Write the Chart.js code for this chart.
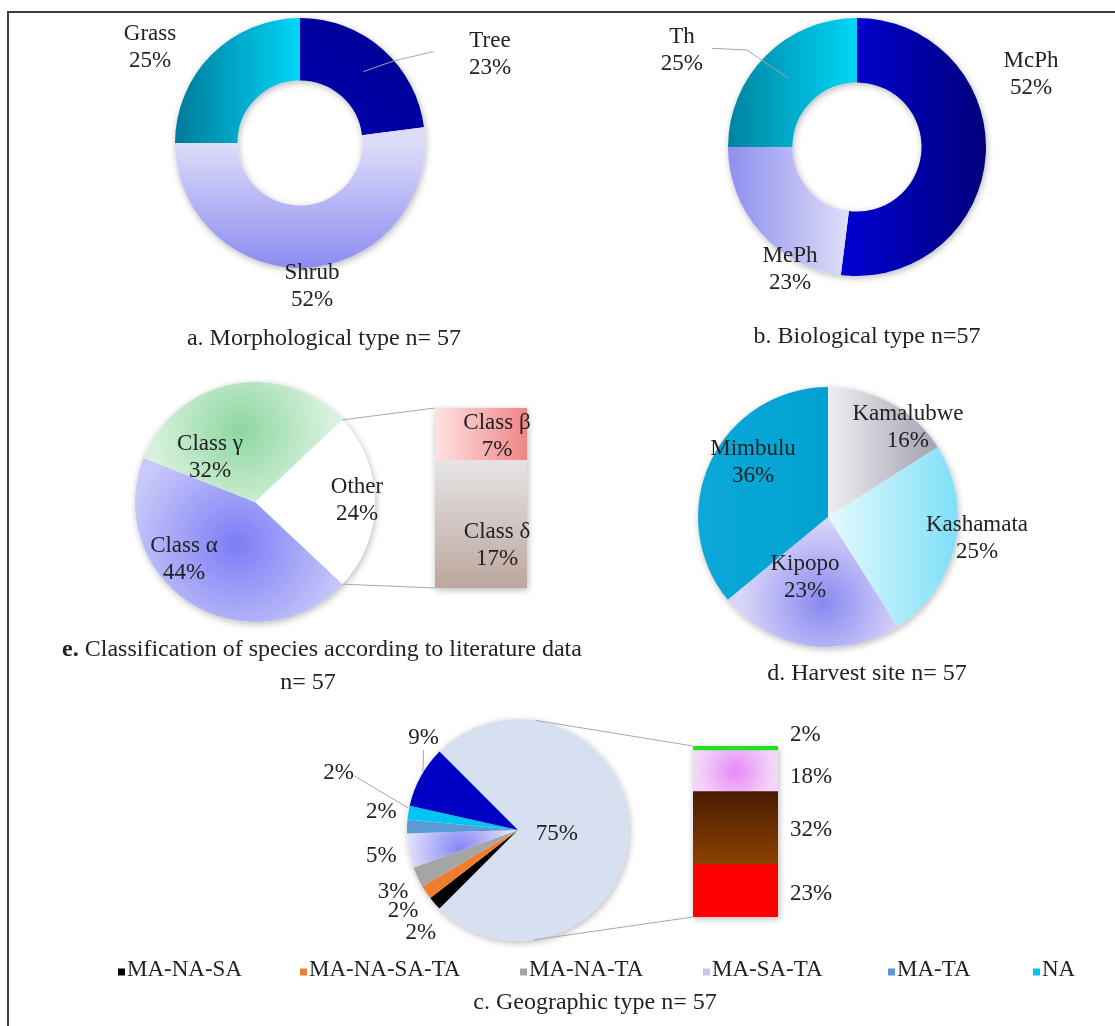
<!DOCTYPE html>
<html>
<head>
<meta charset="utf-8">
<title>Species composition</title>
<script src="https://cdn.jsdelivr.net/npm/chart.js@4.4.0/dist/chart.umd.min.js"></script>
<style>
  html, body { margin: 0; padding: 0; background: #fff; }
  body {
    width: 1115px; height: 1026px; position: relative; overflow: hidden;
    font-family: "Liberation Serif", "Times New Roman", serif; color: #222;
  }
  .frame {
    position: absolute; left: 7px; top: 11px; right: -10px; bottom: -10px;
    border-top: 2px solid #3c3c3c; border-left: 2px solid #3c3c3c;
  }
  canvas { position: absolute; }
  .cap {
    position: absolute; transform: translate(-50%, -50%);
    white-space: nowrap; font-size: 24px; line-height: 1;
  }
  .leg {
    position: absolute; top: 968px; transform: translateY(-50%);
    font-size: 23px; white-space: nowrap; line-height: 1;
  }
  .leg i { display: inline-block; width: 7px; height: 7px; margin-right: 2px; }
</style>
</head>
<body>
<div class="frame"></div>

<canvas id="morph"></canvas>
<canvas id="bio"></canvas>
<canvas id="classPie"></canvas>
<canvas id="classBar"></canvas>
<canvas id="site"></canvas>
<canvas id="geoPie"></canvas>
<canvas id="geoBar"></canvas>
<canvas id="links"></canvas>

<div class="cap" style="left:324px; top:337px">a. Morphological type n= 57</div>
<div class="cap" style="left:867px; top:335px">b. Biological type n=57</div>
<div class="cap" style="left:322px; top:648px"><b>e.</b> Classification of species according to literature data</div>
<div class="cap" style="left:308px; top:681px">n= 57</div>
<div class="cap" style="left:867px; top:672px">d. Harvest site n= 57</div>
<div class="cap" style="left:595px; top:1001px">c. Geographic type n= 57</div>
<div id="legend"></div>

<script>
// ---- data ----
const morphLabels = ['Tree', 'Shrub', 'Grass'];
const morphValues = [23, 52, 25];

const bioLabels = ['McPh', 'MePh', 'Th'];
const bioValues = [52, 23, 25];

const classLabels = ['Other', 'Class α', 'Class γ'];
const classValues = [24, 44, 32];
const classSplitLabels = ['Class δ', 'Class β'];   // bottom to top
const classSplitValues = [17, 7];

const siteLabels = ['Kamalubwe', 'Kashamata', 'Kipopo', 'Mimbulu'];
const siteValues = [16, 25, 23, 36];

const geoLabels = ['Other', 'MA-NA-SA', 'MA-NA-SA-TA', 'MA-NA-TA', 'MA-SA-TA', 'MA-TA', 'NA', ''];
const geoValues = [75, 2, 2, 3, 5, 2, 2, 9];
const geoSplitValues = [23, 32, 18, 2];            // bottom to top

// ---- styles ----
const FONT = '23px "Liberation Serif"';
const INK = '#222';
const LINE = 27;

const morphFill = [
  { from: [0, 0], to: [1, -1], stops: ['#0000b4', '#00008c'] },
  { from: [0, 0], to: [0, 1], stops: ['#dcdcfa', '#8c8cf0'] },
  { from: [-1, 0], to: [0, 0], stops: ['#007a9a', '#00d6f8'] }
];
const bioFill = [
  { from: [-0.1, 0], to: [1, 0], stops: ['#0000d2', '#00007a'] },
  { from: [-1, 0], to: [0, 0], stops: ['#8e8ef0', '#e4e4f8'] },
  { from: [-1, 0], to: [0, 0], stops: ['#00839f', '#00d6f8'] }
];
const classFill = [
  '#ffffff',
  { at: [-0.15, 0.35], size: 0.95, stops: ['#7c7cf6', '#cacafa'] },
  { at: [-0.12, -0.6], size: 0.75, stops: ['#8ed6a0', '#d8f2dc'] }
];
const classSplitFill = [
  { from: [0, -1], to: [0, 1], stops: ['#e6e4e4', '#bca69e'] },
  { from: [-1, 0], to: [1, 0], stops: ['#ffe2e2', '#f08686'] }
];
const siteFill = [
  { from: [0, 0], to: [0.85, 0], stops: ['#eeeef2', '#a2a2b2'] },
  { from: [0.1, 0], to: [1, 0], stops: ['#dcf7fd', '#7edff8'] },
  { at: [-0.04, 0.66], size: 0.62, stops: ['#8888f0', '#d8d4fa'] },
  { from: [-1, 0], to: [0, 0], stops: ['#0ca8d8', '#00a2d2'] }
];
const geoFill = [
  '#d6e0f1', '#000000', '#ef7d2c', '#a5a5a5',
  { at: [-0.52, 0.18], size: 0.5, stops: ['#8484f6', '#e6e6fc'], swatch: '#c4c4f8' },
  '#5b9bd5', '#00c4f2', '#0000c4'
];
const geoSplitFill = [
  '#ff0000',
  { from: [0, -1], to: [0, 1], stops: ['#4a1c00', '#8c4200'] },
  { at: [0, 0], size: 0.9, stops: ['#e68af8', '#f4d6fa'] },
  '#22e022'
];
const legendX = [118, 300, 520, 703, 888, 1033];

// ---- helpers ----
function place(id, left, top, w, h) {
  const c = document.getElementById(id);
  c.width = w; c.height = h;
  c.style.left = left + 'px'; c.style.top = top + 'px';
  c.style.width = w + 'px'; c.style.height = h + 'px';
  return c;
}

// spec coordinates are in units of the half-size of the box
function paint(ctx, spec, box) {
  if (typeof spec === 'string') return spec;
  const P = (p) => [box.cx + p[0] * box.rx, box.cy + p[1] * box.ry];
  let g;
  if (spec.at) {
    const [x, y] = P(spec.at);
    g = ctx.createRadialGradient(x, y, 0, x, y, spec.size * box.rx);
  } else {
    const [x0, y0] = P(spec.from), [x1, y1] = P(spec.to);
    g = ctx.createLinearGradient(x0, y0, x1, y1);
  }
  spec.stops.forEach((s, i) => g.addColorStop(i / (spec.stops.length - 1), s));
  return g;
}

function pieFill(specs) {
  return (c) => {
    const a = c.chart.chartArea;
    if (!a) return '#ccc';
    const r = Math.min(a.width, a.height) / 2;
    return paint(c.chart.ctx, specs[c.dataIndex],
      { cx: (a.left + a.right) / 2, cy: (a.top + a.bottom) / 2, rx: r, ry: r });
  };
}

function barFill(specs) {
  return (c) => {
    const chart = c.chart, y = chart.scales.y, a = chart.chartArea;
    if (!y || !a) return '#ccc';
    const vals = chart.data.datasets.map(d => d.data[0]);
    const lo = vals.slice(0, c.datasetIndex).reduce((s, v) => s + v, 0);
    const yTop = y.getPixelForValue(lo + vals[c.datasetIndex]);
    const yBot = y.getPixelForValue(lo);
    return paint(chart.ctx, specs[c.datasetIndex],
      { cx: (a.left + a.right) / 2, cy: (yTop + yBot) / 2, rx: a.width / 2, ry: (yBot - yTop) / 2 });
  };
}

function dropShadow(ctx, shape) {
  ctx.save();
  ctx.shadowColor = 'rgba(0,0,0,0.28)';
  ctx.shadowBlur = 7;
  ctx.shadowOffsetX = 1;
  ctx.shadowOffsetY = 2;
  ctx.fillStyle = '#fff';
  ctx.beginPath();
  shape(ctx);
  ctx.fill();
  ctx.restore();
}

function drawLines(ctx, lines, x, y) {
  lines.forEach((t, k) => ctx.fillText(t, x, y + (k - (lines.length - 1) / 2) * LINE));
}

// shadow under the pie, slice labels and leader lines on top
const pieDecor = (cfg) => ({
  id: 'pieDecor',
  beforeDatasetsDraw(chart) {
    const a = chart.getDatasetMeta(0).data[0];
    dropShadow(chart.ctx, (ctx) => {
      ctx.arc(a.x, a.y, a.outerRadius, 0, Math.PI * 2);
      if (a.innerRadius > 0) {
        ctx.moveTo(a.x + a.innerRadius, a.y);
        ctx.arc(a.x, a.y, a.innerRadius, 0, Math.PI * 2, true);
      }
    });
  },
  afterDatasetsDraw(chart) {
    const ctx = chart.ctx;
    const a = chart.getDatasetMeta(0).data[0];
    const at = ([fx, fy]) => [a.x + fx * a.outerRadius, a.y + fy * a.outerRadius];
    ctx.save();
    ctx.strokeStyle = '#a6a6a6';
    ctx.lineWidth = 1;
    (cfg.leaders || []).forEach(pts => {
      ctx.beginPath();
      pts.forEach((p, k) => { const [x, y] = at(p); k ? ctx.lineTo(x, y) : ctx.moveTo(x, y); });
      ctx.stroke();
    });
    ctx.font = FONT;
    ctx.fillStyle = INK;
    ctx.textAlign = 'center';
    ctx.textBaseline = 'middle';
    chart.data.datasets[0].data.forEach((v, i) => {
      const [x, y] = at(cfg.pos[i]);
      drawLines(ctx, cfg.names ? [chart.data.labels[i], v + '%'] : [v + '%'], x, y);
    });
    ctx.restore();
  }
});

const barDecor = (cfg) => ({
  id: 'barDecor',
  beforeDatasetsDraw(chart) {
    const els = chart.data.datasets.map((d, i) => chart.getDatasetMeta(i).data[0]);
    const left = els[0].x - els[0].width / 2;
    const top = Math.min(...els.map(e => e.y));
    const bottom = Math.max(...els.map(e => e.base));
    dropShadow(chart.ctx, (ctx) => ctx.rect(left, top, els[0].width, bottom - top));
  },
  afterDatasetsDraw(chart) {
    const ctx = chart.ctx;
    ctx.save();
    ctx.font = FONT;
    ctx.fillStyle = INK;
    ctx.textBaseline = 'middle';
    ctx.textAlign = cfg.align;
    chart.data.datasets.forEach((d, i) => {
      const e = chart.getDatasetMeta(i).data[0];
      const x = cfg.align === 'left' ? e.x + e.width / 2 + cfg.dx : e.x + cfg.dx;
      const y = (e.y + e.base) / 2 + cfg.dy[i];
      drawLines(ctx, cfg.names ? [d.label, d.data[0] + '%'] : [d.data[0] + '%'], x, y);
    });
    ctx.restore();
  }
});

const sum = (arr) => arr.reduce((s, v) => s + v, 0);

function pieChart(canvas, type, labels, values, fill, padding, decor, rotation) {
  return new Chart(canvas, {
    type: type,
    data: {
      labels: labels,
      datasets: [{
        data: values,
        backgroundColor: pieFill(fill),
        borderWidth: 0,
        rotation: rotation || 0
      }]
    },
    options: {
      responsive: false,
      animation: false,
      events: [],
      cutout: type === 'doughnut' ? '50%' : 0,
      layout: { padding: padding },
      plugins: { legend: { display: false }, tooltip: { enabled: false } }
    },
    plugins: [pieDecor(decor)]
  });
}

function stackChart(canvas, labels, values, fill, padding, decor) {
  return new Chart(canvas, {
    type: 'bar',
    data: {
      labels: [''],
      datasets: values.map((v, i) => ({
        label: labels ? labels[i] : '',
        data: [v],
        backgroundColor: barFill(fill),
        borderWidth: 0,
        barPercentage: 1,
        categoryPercentage: 1
      }))
    },
    options: {
      responsive: false,
      animation: false,
      events: [],
      layout: { padding: padding },
      scales: {
        x: { display: false, stacked: true },
        y: { display: false, stacked: true, min: 0, max: sum(values) }
      },
      plugins: { legend: { display: false }, tooltip: { enabled: false } }
    },
    plugins: [barDecor(decor)]
  });
}

// ---- charts ----
const morphChart = pieChart(place('morph', 100, 12, 460, 310), 'doughnut',
  morphLabels, morphValues, morphFill,
  { left: 75, top: 6, right: 135, bottom: 54 },
  { names: true,
    pos: [[1.52, -0.712], [0.096, 1.144], [-1.2, -0.764]],
    leaders: [[[1.067, -0.731], [0.747, -0.656], [0.507, -0.571]]] });

const bioChart = pieChart(place('bio', 600, 12, 515, 310), 'doughnut',
  bioLabels, bioValues, bioFill,
  { left: 128, top: 6, right: 129, bottom: 46 },
  { names: true,
    pos: [[1.349, -0.566], [-0.519, 0.953], [-1.357, -0.752]],
    leaders: [[[-1.126, -0.765], [-0.855, -0.752], [-0.532, -0.533]]] });

// the split-out slice is centred on the right-hand side
const classRotation = 90 - 180 * classValues[0] / sum(classValues);
const classPie = pieChart(place('classPie', 20, 372, 400, 266), 'pie',
  classLabels, classValues, classFill,
  { left: 115, top: 10, right: 45, bottom: 16 },
  { names: true, pos: [[0.85, -0.017], [-0.592, 0.475], [-0.375, -0.375]] },
  classRotation);

const classBar = stackChart(place('classBar', 425, 398, 115, 200),
  classSplitLabels, classSplitValues, classSplitFill,
  { left: 10, top: 10, right: 13, bottom: 10 },
  { names: true, align: 'center', dx: 16, dy: [21, 2] });

const siteChart = pieChart(place('site', 680, 372, 435, 290), 'pie',
  siteLabels, siteValues, siteFill,
  { left: 18, top: 15, right: 157, bottom: 15 },
  { names: true, pos: [[0.615, -0.692], [1.146, 0.162], [-0.177, 0.462], [-0.577, -0.423]] });

const geoRotation = 90 - 180 * geoValues[0] / sum(geoValues);
const geoPie = pieChart(place('geoPie', 300, 705, 390, 255), 'pie',
  geoLabels, geoValues, geoFill,
  { left: 107, top: 14, right: 61, bottom: 19 },
  { names: false,
    pos: [[0.35, 0.04], [-0.875, 0.93], [-1.036, 0.73], [-1.125, 0.56],
          [-1.232, 0.232], [-1.232, -0.16], [-1.616, -0.51], [-0.85, -0.83]],
    leaders: [[[-1.48, -0.49], [-0.99, -0.2]], [[-0.85, -0.72], [-0.857, -0.52]]] },
  geoRotation);

const geoBar = stackChart(place('geoBar', 683, 725, 165, 205),
  null, geoSplitValues, geoSplitFill,
  { left: 10, top: 21, right: 70, bottom: 13 },
  { names: false, align: 'left', dx: 12, dy: [3, 2, 6, -13] });

// ---- series lines between each pie and its split bar ----
function tangent(cx, cy, r, px, py, side) {
  const d = Math.hypot(px - cx, py - cy);
  const ang = Math.atan2(py - cy, px - cx) + side * Math.acos(r / d);
  return [cx + r * Math.cos(ang), cy + r * Math.sin(ang)];
}

function linkPieToBar(ctx, pie, bar, fromEdges) {
  const a = pie.getDatasetMeta(0).data[0];
  const pl = parseFloat(pie.canvas.style.left), pt = parseFloat(pie.canvas.style.top);
  const bl = parseFloat(bar.canvas.style.left), bt = parseFloat(bar.canvas.style.top);
  const cx = a.x + pl, cy = a.y + pt, r = a.outerRadius;
  const els = bar.data.datasets.map((d, i) => bar.getDatasetMeta(i).data[0]);
  const bx = els[0].x - els[0].width / 2 + bl;
  const bTop = Math.min(...els.map(e => e.y)) + bt;
  const bBot = Math.max(...els.map(e => e.base)) + bt;
  let p1, p2;
  if (fromEdges) {
    p1 = [cx + r * Math.cos(a.startAngle), cy + r * Math.sin(a.startAngle)];
    p2 = [cx + r * Math.cos(a.endAngle), cy + r * Math.sin(a.endAngle)];
  } else {
    p1 = tangent(cx, cy, r, bx, bTop, -1);
    p2 = tangent(cx, cy, r, bx, bBot, 1);
  }
  ctx.beginPath();
  ctx.moveTo(p1[0], p1[1]); ctx.lineTo(bx, bTop);
  ctx.moveTo(p2[0], p2[1]); ctx.lineTo(bx, bBot);
  ctx.stroke();
}

const links = place('links', 0, 0, 1115, 1026);
const lctx = links.getContext('2d');
lctx.strokeStyle = '#a8a8a8';
lctx.lineWidth = 1;
linkPieToBar(lctx, classPie, classBar, true);
linkPieToBar(lctx, geoPie, geoBar, false);

// ---- legend for the geographic types ----
const legend = document.getElementById('legend');
geoLabels.slice(1, 7).forEach((name, k) => {
  const spec = geoFill[k + 1];
  const item = document.createElement('div');
  item.className = 'leg';
  item.style.left = legendX[k] + 'px';
  const sw = document.createElement('i');
  sw.style.background = typeof spec === 'string' ? spec : spec.swatch;
  item.appendChild(sw);
  item.appendChild(document.createTextNode(name));
  legend.appendChild(item);
});
</script>
</body>
</html>
